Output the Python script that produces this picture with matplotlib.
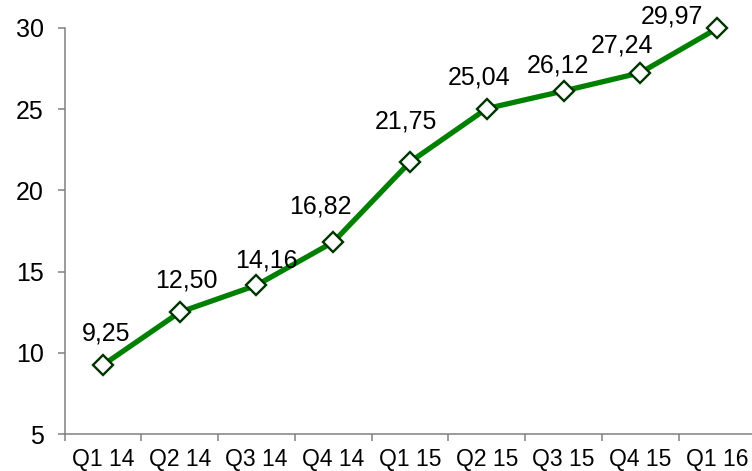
import matplotlib
matplotlib.use("Agg")
import matplotlib.pyplot as plt
from matplotlib.ticker import FixedLocator, NullFormatter

plt.rcParams['font.family'] = ['Liberation Sans', 'DejaVu Sans']

quarters = ['Q1 14', 'Q2 14', 'Q3 14', 'Q4 14', 'Q1 15', 'Q2 15', 'Q3 15', 'Q4 15', 'Q1 16']
values = [9.25, 12.50, 14.16, 16.82, 21.75, 25.04, 26.12, 27.24, 29.97]
labels = ['9,25', '12,50', '14,16', '16,82', '21,75', '25,04', '26,12', '27,24', '29,97']

# label offsets in pixels (dx, dy) relative to each point, like Excel placed them
label_offsets = [(3, 31), (7, 32), (10, 25), (-13, 36), (-4, 40),
                 (-8, 31), (-6, 26), (-18, 27), (-45, 12)]

W, H = 752, 471
fig = plt.figure(figsize=(W / 100, H / 100), dpi=100)
left, right = 64.6, 755.4
top, bottom = 28, 434
ax = fig.add_axes([left / W, (H - bottom) / H, (right - left) / W, (bottom - top) / H])

x = list(range(len(quarters)))
ax.plot(x, values, color='#008000', lw=3.8, marker='D', ms=10.5,
        mfc='white', mec='#003300', mew=1.7, zorder=3, clip_on=False)

for xi, v, lab, (dx, dy) in zip(x, values, labels, label_offsets):
    ax.annotate(lab, (xi, v), xytext=(dx * 0.72, dy * 0.72), textcoords='offset points',
                ha='center', va='center', fontsize=18, color='black')

ax.set_xlim(-0.5, len(quarters) - 0.5)
ax.set_ylim(5, 30)
ax.set_yticks([5, 10, 15, 20, 25, 30])
ax.tick_params(axis='y', labelsize=18, length=5, width=1.1, color='#808080', pad=10)

ax.xaxis.set_major_locator(FixedLocator([i - 0.5 for i in range(len(quarters) + 1)]))
ax.xaxis.set_major_formatter(NullFormatter())
ax.xaxis.set_minor_locator(FixedLocator(x))
ax.set_xticklabels(quarters, minor=True)
ax.tick_params(axis='x', which='major', length=5, width=1.1, color='#808080', direction='out')
ax.tick_params(axis='x', which='minor', length=0, labelsize=16.5, pad=10)

for s in ['top', 'right']:
    ax.spines[s].set_visible(False)
for s in ['left', 'bottom']:
    ax.spines[s].set_color('#808080')
    ax.spines[s].set_linewidth(1.1)

fig.savefig('out.png', dpi=100)
